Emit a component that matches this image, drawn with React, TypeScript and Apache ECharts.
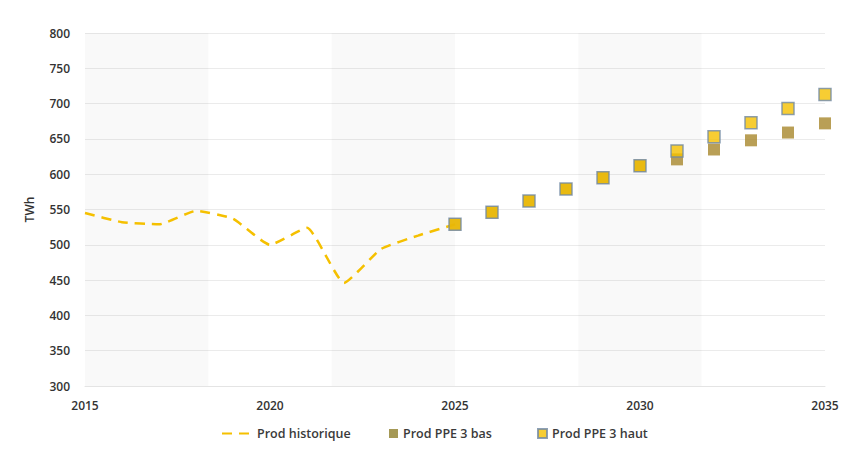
import React, { useEffect, useRef } from "react";
import * as echarts from "echarts";

const histYears = [2015, 2016, 2017, 2018, 2019, 2020, 2021, 2022, 2023, 2024, 2025];
const histValues = [545, 532, 529, 548, 537, 500, 524, 446, 494, 513, 529];

const ppeYears = [2025, 2026, 2027, 2028, 2029, 2030, 2031, 2032, 2033, 2034, 2035];
const ppeBas = [529, 546, 562, 579, 595, 612, 621, 635, 648, 659, 672];
const ppeHaut = [529, 546, 562, 579, 595, 612, 633, 653, 673, 693, 713];

const seriesNames = ["Prod historique", "Prod PPE 3 bas", "Prod PPE 3 haut"];
const yAxisName = "TWh";

const FONT = "'Open Sans', 'Noto Sans', sans-serif";
const legendText = { fontFamily: FONT, fontSize: 12.5, color: "#3a3a3a", fontWeight: 600 };

export default function App() {
  const ref = useRef<HTMLDivElement>(null);
  useEffect(() => {
    if (!ref.current) return;
    const chart = echarts.init(ref.current, null, { renderer: "svg" });
    chart.setOption({
      animation: false,
      backgroundColor: "#ffffff",
      textStyle: { fontFamily: FONT },
      grid: { left: 85, right: 20, top: 33, bottom: 64 },
      legend: [
        {
          left: 216,
          bottom: 5,
          data: [{ name: seriesNames[0], itemStyle: { opacity: 0 } }],
          itemWidth: 30,
          itemHeight: 9,
          textStyle: legendText,
        },
        {
          left: 384,
          bottom: 5,
          data: [{ name: seriesNames[1], icon: "rect" }],
          itemWidth: 9,
          itemHeight: 9,
          itemStyle: { color: "#8E7F2C" },
          textStyle: legendText,
        },
        {
          left: 532,
          bottom: 5,
          data: [{ name: seriesNames[2], icon: "rect" }],
          itemWidth: 9,
          itemHeight: 9,
          textStyle: legendText,
        },
      ],
      xAxis: [
        {
          type: "value",
          min: 2015,
          max: 2035,
          interval: 5,
          axisLine: { show: true, lineStyle: { color: "#e4e4e4" } },
          axisTick: { show: false },
          splitLine: { show: false },
          axisLabel: {
            fontFamily: FONT,
            fontSize: 12,
            color: "#333",
            margin: 13,
            fontWeight: 600,
            formatter: (v: number) => String(v),
          },
        },
        {
          type: "value",
          min: 0,
          max: 6,
          interval: 1,
          position: "top",
          axisLine: { show: false },
          axisTick: { show: false },
          axisLabel: { show: false },
          splitLine: { show: false },
          splitArea: { show: true, areaStyle: { color: ["rgba(0,0,0,0.025)", "rgba(0,0,0,0)"] } },
        },
      ],
      yAxis: {
        type: "value",
        min: 300,
        max: 800,
        interval: 50,
        name: yAxisName,
        nameLocation: "middle",
        nameGap: 50,
        nameTextStyle: { fontFamily: FONT, fontSize: 12, color: "#333", fontWeight: 600 },
        axisLine: { show: false },
        axisTick: { show: false },
        axisLabel: { fontFamily: FONT, fontSize: 12, color: "#333", margin: 15, fontWeight: 600 },
        splitLine: { show: true, lineStyle: { color: "#ebebeb" } },
      },
      series: [
        {
          name: seriesNames[0],
          type: "line",
          data: histYears.map((y, i) => [y, histValues[i]]),
          smooth: 0.15,
          symbol: "none",
          lineStyle: { color: "#F5C000", width: 2.5, type: [10, 7] },
          itemStyle: { color: "#F5C000" },
          z: 2,
        },
        {
          name: seriesNames[1],
          type: "scatter",
          data: ppeYears.map((y, i) => [y, ppeBas[i]]),
          symbol: "rect",
          symbolSize: 12,
          itemStyle: { color: "#A8872C" },
          z: 3,
        },
        {
          name: seriesNames[2],
          type: "scatter",
          data: ppeYears.map((y, i) => [y, ppeHaut[i]]),
          symbol: "rect",
          symbolSize: 12,
          itemStyle: { color: "#F5C000", borderColor: "#7088A4", borderWidth: 1.5 },
          z: 4,
        },
      ],
    });
    return () => chart.dispose();
  }, []);
  return (
    <div
      ref={ref}
      style={{ position: "fixed", left: 0, top: 0, width: 845, height: 450 }}
    />
  );
}
